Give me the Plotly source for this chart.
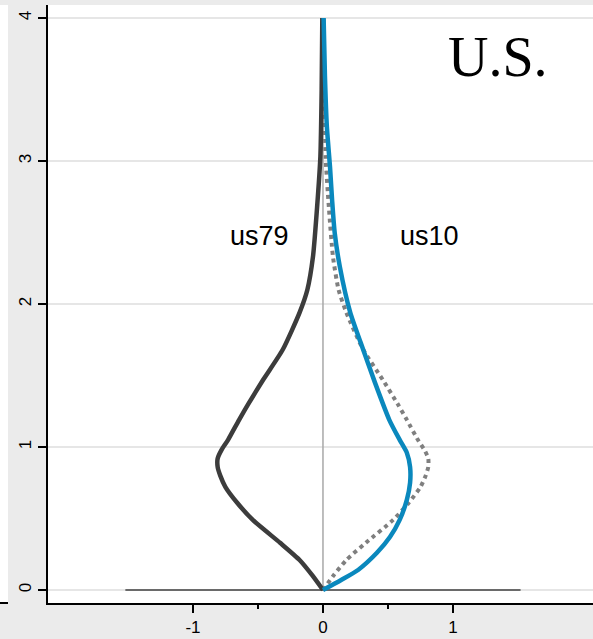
import plotly.graph_objects as go

# ---- data ----
# us79 density (mirrored to the left), y = level, x = density
us79_y = [0, 0.1, 0.21, 0.33, 0.49, 0.61, 0.72, 0.80, 0.86, 0.92, 0.98, 1.05,
          1.19, 1.30, 1.47, 1.68, 1.94, 2.10, 2.33, 2.68, 3.03, 3.50, 4.0]
us79_d = [0, 0.08, 0.18, 0.33, 0.54, 0.66, 0.75, 0.79, 0.81, 0.81, 0.78, 0.73,
          0.645, 0.575, 0.46, 0.31, 0.18, 0.12, 0.077, 0.045, 0.02, 0.01, 0.005]

# us10 density (right side)
us10_y = [0, 0.07, 0.14, 0.26, 0.37, 0.49, 0.63, 0.75, 0.86, 0.96, 1.05, 1.19,
          1.45, 1.73, 1.94, 2.26, 2.50, 2.73, 2.96, 3.24, 3.60, 4.0]
us10_d = [0, 0.14, 0.27, 0.415, 0.515, 0.59, 0.645, 0.67, 0.67, 0.645, 0.59, 0.51,
          0.40, 0.29, 0.21, 0.13, 0.09, 0.07, 0.054, 0.03, 0.015, 0.005]

baseline_x = [-1.52, 1.52]
baseline_y = [0, 0]
zero_x = [0, 0]
zero_y = [0, 4]

x_ticks = [-1, 0, 1]
x_minor = [-0.5, 0.5]
y_ticks = [0, 1, 2, 3, 4]

label_left = "us79"
label_right = "us10"
panel_title = "U.S."

fig = go.Figure()

fig.add_trace(go.Scatter(x=zero_x, y=zero_y, mode="lines",
                         line=dict(color="#a8a8a8", width=1.5), showlegend=False))
fig.add_trace(go.Scatter(x=baseline_x, y=baseline_y, mode="lines",
                         line=dict(color="#6a6a6a", width=2), showlegend=False))
fig.add_trace(go.Scatter(x=us79_d, y=us79_y, mode="lines",
                         line=dict(color="#7f7f7f", width=4, dash="4px,4px", shape="spline", smoothing=0.6),
                         showlegend=False))
fig.add_trace(go.Scatter(x=[-v for v in us79_d], y=us79_y, mode="lines",
                         line=dict(color="#3c3c3c", width=4.5, shape="spline", smoothing=0.6),
                         showlegend=False))
fig.add_trace(go.Scatter(x=us10_d, y=us10_y, mode="lines",
                         line=dict(color="#0a88bd", width=4.5, shape="spline", smoothing=0.6),
                         showlegend=False))

fig.add_annotation(x=-0.485, y=2.475, text=label_left, showarrow=False,
                   font=dict(family="Liberation Sans, Arial", size=27, color="black"))
fig.add_annotation(x=0.82, y=2.475, text=label_right, showarrow=False,
                   font=dict(family="Liberation Sans, Arial", size=27, color="black"))
fig.add_annotation(x=1.35, y=3.73, text=panel_title, showarrow=False,
                   font=dict(family="Liberation Serif, Times New Roman", size=56, color="black"))

# white strip of neighbouring panel at far left
fig.add_shape(type="rect", xref="paper", yref="paper", x0=-48/545, x1=-40/545,
              y0=0, y1=1, fillcolor="white", line=dict(width=0), layer="below")
fig.add_shape(type="line", xref="paper", yref="paper", x0=-48/545, x1=-40/545,
              y0=0, y1=0, line=dict(color="black", width=2))

fig.update_layout(
    width=593, height=639,
    margin=dict(l=48, r=0, t=5, b=36),
    paper_bgcolor="#ebebeb",
    plot_bgcolor="white",
    font=dict(family="Liberation Sans, Arial", size=17, color="black"),
    xaxis=dict(range=[-2.115, 2.077], tickvals=x_ticks, ticktext=["-1", "0", "1"],
               showgrid=False, zeroline=False, showline=True, linecolor="black", linewidth=2,
               ticks="outside", ticklen=8, tickwidth=1.5, tickcolor="black",
               minor=dict(tickvals=x_minor, ticks="outside", ticklen=4, tickwidth=1.5, tickcolor="black"),
               tickfont=dict(size=17)),
    yaxis=dict(range=[-0.091, 4.091], tickvals=y_ticks, tickangle=-90,
               showgrid=True, gridcolor="#e6e6e6", gridwidth=1.5, zeroline=False,
               showline=True, linecolor="black", linewidth=2,
               ticks="outside", ticklen=8, tickwidth=1.5, tickcolor="black",
               tickfont=dict(size=17)),
)

fig.write_html("out.html", config={"displayModeBar": False},
               post_script="document.body.style.margin='0';document.body.style.overflow='hidden';")
